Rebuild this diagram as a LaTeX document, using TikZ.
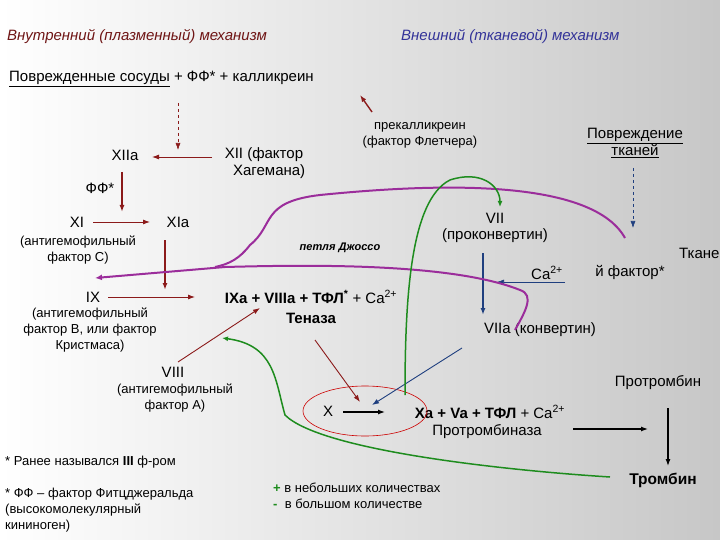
\documentclass[tikz,border=0pt]{standalone}
\usepackage{fontspec}
\setmainfont{Liberation Sans}
\usetikzlibrary{arrows.meta}
\definecolor{dred}{HTML}{8B1A1A}
\definecolor{ttl}{HTML}{333399}
\definecolor{purp}{HTML}{9B2D9B}
\definecolor{grn}{HTML}{1E8C1E}
\definecolor{blu}{HTML}{1F3F7F}
\newcommand{\sps}[1]{\textsuperscript{#1}}
\begin{document}
\begin{tikzpicture}[x=1pt,y=-1pt,
  every node/.style={font=\fontsize{15}{16.5}\selectfont,inner sep=1pt,align=center},
  sm/.style={font=\fontsize{13}{16}\selectfont},
  ra/.style={draw=dred,-{Latex[length=7pt,width=5pt]},line width=0.9pt},
  rath/.style={ra,line width=1.8pt},
  ba/.style={draw=blu,-{Latex[length=7pt,width=5pt]},line width=0.9pt},
  ka/.style={draw=black,-{Latex[length=7pt,width=5pt]},line width=1.2pt},
  pl/.style={draw=purp,line width=2pt},
  gl/.style={draw=grn,line width=1.5pt}]
\shade[left color=white,right color=black!22] (0,0) rectangle (720,540);
\useasboundingbox (0,0) rectangle (720,540);
\node[anchor=west,font=\itshape\fontsize{15}{17}\selectfont,text=dred!80!black] (t1) at (6,37) {Внутренний (плазменный) механизм};
\node[anchor=west,font=\itshape\fontsize{15}{17}\selectfont,text=ttl] (t2) at (400,37) {Внешний (тканевой) механизм};
\node[anchor=west] (top) at (8,79) {\underline{Поврежденные сосуды} + ФФ* + калликреин};
\node (xiia) at (125,155) {XIIa};
\node[align=left] (xii) at (265,163) {XII (фактор\\\ \ Хагемана)};
\node (ff) at (100,188) {ФФ*};
\node (xi) at (77,222) {XI};
\node (xia) at (178,222) {XIa};
\node[sm] (ac) at (78,250) {(антигемофильный\\фактор С)};
\node[font=\bfseries\itshape\fontsize{11}{13}\selectfont] (jos) at (340,248) {петля Джоссо};
\node (ix) at (93,297) {IX};
\node[font=\bfseries\fontsize{15}{17}\selectfont] (ten) at (311,297) {IXa + VIIIa + ТФЛ\sps{*} \mdseries+ Ca\sps{2+}};
\node[font=\bfseries\fontsize{15}{17}\selectfont] (tenl) at (311,318) {Теназа};
\node[sm] (ab) at (90,330) {(антигемофильный\\фактор В, или фактор\\Кристмаса)};
\node (viii) at (173,372) {VIII};
\node[sm] (aa) at (175,398) {(антигемофильный\\фактор А)};
\node[sm] (prek) at (420,135) {прекалликреин\\(фактор Флетчера)};
\node (pt) at (635,143) {\underline{Повреждение}\\\underline{тканей}};
\node (vii) at (495,228) {VII\\(проконвертин)};
\node (ca) at (547,273) {Ca\sps{2+}};
\node[anchor=west] (tf1) at (678,253) {Тканевой};
\node (tf2) at (630,272) {й фактор*};
\node (viia) at (540,330) {VIIa (конвертин)};
\node (prot) at (658,383) {Протромбин};
\node (x) at (328,411) {X};
\node (xa) at (490,412) {\textbf{Xa + Va + ТФЛ} + Ca\sps{2+}};
\node (ptb) at (487,432) {Протромбиназа};
\node[font=\bfseries\fontsize{15.5}{17}\selectfont] (trom) at (663,480) {Тромбин};
\node[sm,anchor=west] (fn1) at (4,462) {* Ранее назывался \textbf{III} ф-ром};
\node[sm,anchor=west,align=left] (fn2) at (4,510) {* ФФ – фактор Фитцджеральда\\(высокомолекулярный\\кининоген)};
\node[sm,anchor=west,align=left] (lg) at (272,496) {{\color{grn}\textbf{+}} в небольших количествах\\{\color{grn}\textbf{-}} \ в большом количестве};
\draw[red!80!black,line width=0.6pt] (365,411) ellipse (62 and 25);
% arrows
\coordinate (d1) at (178,103);
\draw[ra,dashed,line width=0.6pt] (d1) -- (178,150);
\draw[ra] (212,157) -- (152,157);
\draw[rath] (122,172) -- (122,212);
\draw[ra] (93,222) -- (150,222);
\draw[rath] (165,240) -- (165,290);
\draw[ra] (108,297) -- (195,297);
\draw[ra] (178,362) -- (260,308);
\draw[ra] (315,340) -- (360,402);
\draw[ra,line width=1.4pt] (372,112) -- (360,95);
\draw[ba] (462,348) -- (372,405);
\draw[ba,line width=1.4pt] (483,253) -- (483,315);
\draw[ba,line width=0.6pt] (565,282) -- (497,282);
\draw[ba,dashed,line width=0.6pt] (633,168) -- (633,228);
\draw[ka] (343,412) -- (385,412);
\draw[ka] (573,429) -- (648,429);
\draw[ka] (668,408) -- (668,466);
% purple loops
\draw[pl,-{Latex[length=7pt,width=6pt]}] (515,330) .. controls (525,312) and (535,295) .. (520,290) .. controls (450,262) and (300,265) .. (225,267) -- (95,278);
\draw[pl] (625,238) .. controls (590,175) and (420,185) .. (320,195) .. controls (260,202) and (275,225) .. (250,245) .. controls (240,258) and (230,264) .. (215,267);
% green
\draw[gl,-{Latex[length=6pt,width=5pt]}] (405,395) .. controls (405,300) and (410,200) .. (450,180) .. controls (480,170) and (500,185) .. (500,207);
\draw[gl,-{Latex[length=6pt,width=5pt]}] (610,477) .. controls (500,470) and (320,450) .. (285,415) .. controls (275,380) and (275,345) .. (222,338);
\end{tikzpicture}
\end{document}
